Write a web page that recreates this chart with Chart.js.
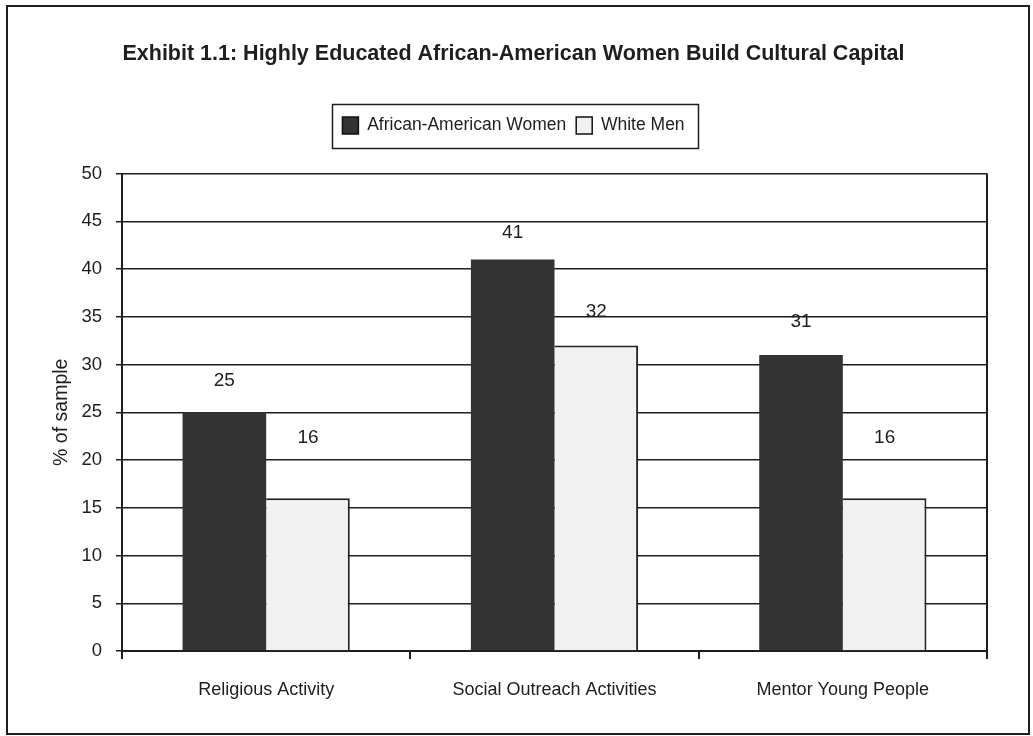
<!DOCTYPE html>
<html>
<head>
<meta charset="utf-8">
<script src="https://cdn.jsdelivr.net/npm/chart.js@4.4.1/dist/chart.umd.min.js"></script>
<style>
  html, body { margin: 0; padding: 0; background: #fff; }
  #wrap { width: 1033px; height: 736px; }
</style>
</head>
<body>
<div id="wrap"><canvas id="c" width="1033" height="736"></canvas></div>
<script>
const categories = ['Religious Activity', 'Social Outreach Activities', 'Mentor Young People'];
const africanAmericanWomen = [25, 41, 31];
const whiteMen = [16, 32, 16];
const yTicks = [0, 5, 10, 15, 20, 25, 30, 35, 40, 45, 50];

const FONT = '"Liberation Sans", Arial, sans-serif';
const INK = '#1e1e1e';

// value labels above each bar, plus the frames around the legend and the figure
const decorations = {
  id: 'decorations',
  beforeDraw(chart) {
    const ctx = chart.ctx;
    ctx.save();
    ctx.fillStyle = '#fff';
    ctx.fillRect(0, 0, chart.width, chart.height);
    ctx.restore();
  },
  afterDatasetsDraw(chart) {
    const ctx = chart.ctx;
    const lifts = [[31, 27, 33], [60, 34, 60]];
    ctx.save();
    ctx.fillStyle = INK;
    ctx.font = '19px ' + FONT;
    ctx.textAlign = 'center';
    ctx.textBaseline = 'middle';
    chart.data.datasets.forEach((ds, di) => {
      chart.getDatasetMeta(di).data.forEach((bar, i) => {
        ctx.fillText(String(ds.data[i]), bar.x, bar.y - lifts[di][i]);
      });
    });
    // right edge of the plot
    const a = chart.chartArea;
    ctx.strokeStyle = INK;
    ctx.lineWidth = 2;
    ctx.beginPath();
    ctx.moveTo(a.right, a.top);
    ctx.lineTo(a.right, a.bottom + 8);
    ctx.stroke();
    // legend frame
    const boxes = chart.legend.legendHitBoxes;
    if (boxes && boxes.length) {
      const first = boxes[0];
      const last = boxes[boxes.length - 1];
      const x0 = Math.round(first.left) - 9.5;
      const x1 = Math.round(last.left + last.width) + 13.5;
      ctx.lineWidth = 1.5;
      ctx.strokeRect(x0, 104.5, x1 - x0, 44);
    }
    // outer frame
    ctx.lineWidth = 2;
    ctx.strokeRect(7, 6, 1022, 728);
    ctx.restore();
  }
};

new Chart(document.getElementById('c'), {
  type: 'bar',
  data: {
    labels: categories,
    datasets: [
      {
        label: 'African-American Women',
        data: africanAmericanWomen,
        backgroundColor: '#333333',
        borderColor: '#333333',
        borderWidth: 0,
        categoryPercentage: 0.58,
        barPercentage: 1.0
      },
      {
        label: 'White Men',
        data: whiteMen,
        backgroundColor: '#f1f1f1',
        borderColor: '#222222',
        borderWidth: { top: 2, right: 2, left: 0, bottom: 0 },
        categoryPercentage: 0.58,
        barPercentage: 1.0
      }
    ]
  },
  options: {
    responsive: false,
    animation: false,
    devicePixelRatio: 1,
    layout: { padding: { left: 40, right: 46, top: 0, bottom: 0 } },
    plugins: {
      title: {
        display: true,
        text: 'Exhibit 1.1: Highly Educated African-American Women Build Cultural Capital',
        color: INK,
        font: { family: FONT, size: 21.5, weight: 'bold' },
        padding: { top: 41, bottom: 40 }
      },
      subtitle: {
        display: true,
        text: ' ',
        weight: 500,
        font: { size: 1 },
        padding: { top: 0, bottom: 28 }
      },
      legend: {
        display: true,
        labels: {
          color: INK,
          font: { family: FONT, size: 17.5 },
          boxWidth: 16,
          boxHeight: 17,
          padding: 10,
          generateLabels(chart) {
            return chart.data.datasets.map((ds, i) => ({
              text: ds.label,
              fillStyle: ds.backgroundColor,
              strokeStyle: '#111',
              lineWidth: 1.5,
              hidden: false,
              datasetIndex: i,
              fontColor: INK
            }));
          }
        }
      },
      tooltip: { enabled: false }
    },
    scales: {
      x: {
        afterFit(scale) { scale.height = 85; },
        grid: {
          offset: true,
          drawOnChartArea: false,
          drawTicks: true,
          tickLength: 8,
          color: INK,
          lineWidth: 2
        },
        border: { display: true, color: INK, width: 2 },
        ticks: {
          color: INK,
          font: { family: FONT, size: 18 },
          padding: 20
        }
      },
      y: {
        min: 0,
        max: 50,
        afterBuildTicks(scale) { scale.ticks = yTicks.map(v => ({ value: v })); },
        afterFit(scale) { scale.width = 82; },
        grid: {
          color: INK,
          lineWidth: 1.5,
          tickLength: 6,
          drawTicks: true
        },
        border: { display: true, color: INK, width: 2 },
        ticks: {
          color: INK,
          font: { family: FONT, size: 18.5 },
          padding: 14
        },
        title: {
          display: true,
          text: '% of sample',
          color: INK,
          font: { family: FONT, size: 19.5 },
          padding: { top: 10, bottom: 7 }
        }
      }
    }
  },
  plugins: [decorations]
});
</script>
</body>
</html>
